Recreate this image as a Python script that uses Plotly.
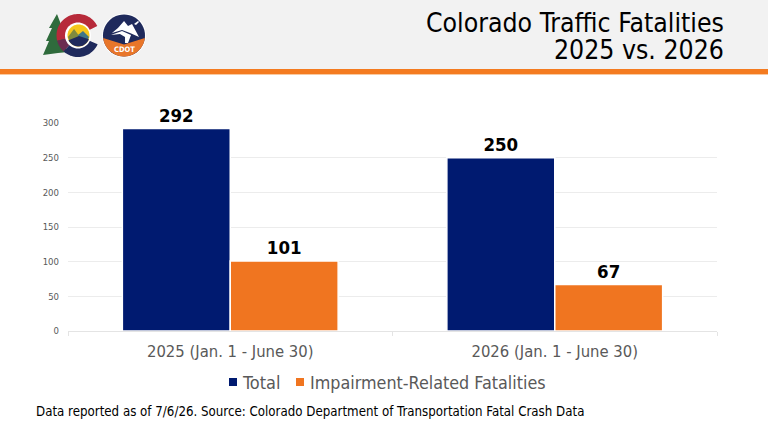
import math
import plotly.graph_objects as go

categories = ["2025 (Jan. 1 - June 30)", "2026 (Jan. 1 - June 30)"]
series_names = ["Total", "Impairment-Related Fatalities"]
total = [292, 250]
impairment = [101, 67]
y_ticks = [0, 50, 100, 150, 200, 250, 300]
title_lines = ["Colorado Traffic Fatalities", "2025 vs. 2026"]
source_note = "Data reported as of 7/6/26. Source: Colorado Department of Transportation Fatal Crash Data"

NAVY = "#001a70"
ORANGE = "#f07520"
W, H = 768, 432
FONT = "DejaVu Sans Condensed, DejaVu Sans"


def px(x):
    return x / W


def py(y):
    return 1 - y / H


def path(points):
    # Closed SVG path from page pixel coordinates
    return "M" + " L".join(f"{px(x):.4f},{py(y):.4f}" for x, y in points) + " Z"


def arc(cx, cy, r, a0, a1, steps=48):
    return [
        (cx + r * math.cos(math.radians(a0 + (a1 - a0) * i / steps)),
         cy + r * math.sin(math.radians(a0 + (a1 - a0) * i / steps)))
        for i in range(steps + 1)
    ]


def fill(points, color):
    return dict(type="path", xref="paper", yref="paper", path=path(points),
                fillcolor=color, line=dict(width=0), layer="above")


def rect(x0, y0, x1, y1, color, layer="below"):
    return dict(type="rect", xref="paper", yref="paper", x0=px(x0), x1=px(x1),
                y0=py(y0), y1=py(y1), fillcolor=color, line=dict(width=0), layer=layer)


def label(x, y, text, size, color="#000000", anchor="left", bold=False):
    return dict(xref="paper", yref="paper", x=px(x), y=py(y), text=text, showarrow=False,
                xanchor=anchor, yanchor="middle",
                font=dict(family=FONT, size=size, color=color, weight="bold" if bold else "normal"))


shapes = [
    rect(0, 0, 768, 69, "#f2f2f2"),
    rect(0, 69, 768, 74, "#f47b20"),
    rect(0, 74, 768, 75, "#f9c9a0"),
    rect(229, 378, 237, 386, NAVY, "above"),
    rect(296, 378, 304, 386, ORANGE, "above"),
]

# Colorado mark: tree, red and navy C, sun and mountains
CX, CY = 78, 35.5
shapes += [
    fill([(57, 14), (62, 27), (60, 27), (65, 40), (62, 40), (68, 52), (58, 53), (43, 55),
          (49, 41), (46, 41), (52, 28), (49, 28)], "#2f6b3c"),
    fill(arc(CX, CY, 21.5, 166, 334) + arc(CX, CY, 12, 334, 166), "#b72a3a"),
    fill(arc(CX, CY, 21.5, 166, 132, 12) + arc(CX, CY, 12, 132, 166, 12), "#6b2b50"),
    fill(arc(CX, CY, 21.5, 132, 24, 30) + arc(CX, CY, 12, 24, 132, 30), "#1f2a5c"),
    fill(arc(CX, CY, 13, 0, 360), "#ffffff"),
    fill(arc(CX + 0.5, CY, 11, 0, 360), "#f5c61a"),
    fill([(68, 37), (74, 29), (80, 37), (75, 44), (70, 42)], "#7f8a3e"),
    fill([(78, 35), (83, 31), (89, 37), (86, 43), (80, 43)], "#3f7688"),
    fill(arc(CX + 0.5, CY, 11, 20, 155, 20) + [(79, 36)], "#1f2a5c"),
]

# CDOT roundel: navy disc, white peak and road, orange lower band
DX, DY = 124, 35.5
shapes += [
    fill(arc(DX, DY, 22, 0, 360), "#ffffff"),
    fill(arc(DX, DY, 21, 0, 360), "#1f2a5c"),
    fill(arc(DX, DY, 21, 7, 173) + [(DX, 44.5)], "#e8762a"),
    fill([(112, 33), (118, 28), (124, 21), (128, 26), (132, 24), (139, 37), (130, 33), (122, 30)], "#ffffff"),
    fill([(111, 35), (122, 31), (131, 35), (128, 43), (125, 43), (125, 37), (120, 34)], "#ffffff"),
    fill([(134, 24), (138, 21), (139, 22), (136, 25)], "#ffffff"),
]

fig = go.Figure()
for name, values, color in zip(series_names, [total, impairment], [NAVY, ORANGE]):
    fig.add_bar(
        name=name, x=categories, y=values,
        marker=dict(color=color, line=dict(color="#ffffff", width=1.5)),
        text=values, textposition="outside", cliponaxis=False,
        textfont=dict(family=FONT, size=18.5, color="#000000", weight="bold"),
    )

annotations = [
    label(726, 22, title_lines[0], 26.4, anchor="right"),
    label(726, 50, title_lines[1], 26.4, anchor="right"),
    label(34, 411, source_note, 13.2),
    label(240, 382, series_names[0], 18, "#595959"),
    label(308, 382, series_names[1], 17.8, "#595959"),
    label(124, 50, "CDOT", 7.5, "#ffffff", anchor="center", bold=True),
]

fig.update_layout(
    width=W, height=H, autosize=False,
    margin=dict(l=0, r=0, t=0, b=0),
    paper_bgcolor="#ffffff", plot_bgcolor="#ffffff",
    barmode="group", bargap=0.335, bargroupgap=0,
    shapes=shapes, annotations=annotations,
    font=dict(family=FONT),
    showlegend=False,
    xaxis=dict(domain=[px(68), px(717)], showgrid=False, showline=True, linecolor="#e4e4e4",
               ticks="outside", tickson="boundaries", ticklen=4, tickcolor="#e4e4e4",
               ticklabelstandoff=5,
               tickfont=dict(family=FONT, size=16.5, color="#595959"), automargin=False),
    yaxis=dict(domain=[py(331), py(123)], range=[0, 300], tickvals=y_ticks, gridcolor="#ececec",
               zeroline=False, ticks="", ticklabelstandoff=8,
               tickfont=dict(family=FONT, size=9.5, color="#595959"), automargin=False),
)

fig.write_html("out.html")
